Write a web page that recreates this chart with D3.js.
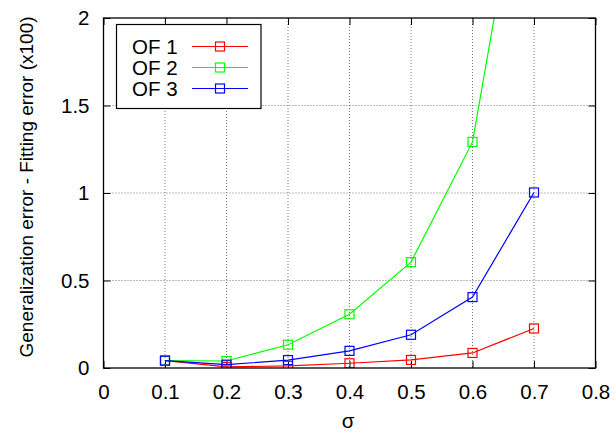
<!DOCTYPE html>
<html>
<head>
<meta charset="utf-8">
<script src="https://cdn.jsdelivr.net/npm/d3@7/dist/d3.min.js"></script>
<style>
  html, body { margin: 0; padding: 0; background: #fff; }
  svg { display: block; font-family: "Liberation Sans", Arial, Helvetica, sans-serif; }
</style>
</head>
<body>
<svg id="chart" width="615" height="433"></svg>
<script>
// sigma values (x) and per-series generalization minus fitting error (x100)
const sigma = [0.1, 0.2, 0.3, 0.4, 0.5, 0.6, 0.7];
const of1 = [0.042, 0.006, 0.012, 0.027, 0.046, 0.086, 0.226];
const of2 = [0.042, 0.040, 0.133, 0.307, 0.605, 1.292, 3.3];
const of3 = [0.042, 0.019, 0.045, 0.098, 0.190, 0.405, 1.003];
const seriesNames = ["OF 1", "OF 2", "OF 3"];
const seriesColors = ["#ff0000", "#00ff00", "#0000ff"];
const xTicks = [0, 0.1, 0.2, 0.3, 0.4, 0.5, 0.6, 0.7, 0.8];
const yTicks = [0, 0.5, 1, 1.5, 2];
const xTickLabels = ["0", "0.1", "0.2", "0.3", "0.4", "0.5", "0.6", "0.7", "0.8"];
const yTickLabels = ["0", "0.5", "1", "1.5", "2"];

const svg = d3.select("#chart");
const L = 103.5, R = 595.5, T = 18, B = 368;

const x = d3.scaleLinear().domain([0, 0.8]).range([L, R]);
const y = d3.scaleLinear().domain([0, 2]).range([B, T]);

const fontSize = 20.5;

// dotted grid
const grid = svg.append("g");
xTicks.slice(1, -1).forEach(t => {
  grid.append("line").attr("x1", x(t)).attr("x2", x(t)).attr("y1", T).attr("y2", B)
    .attr("stroke", "#777").attr("stroke-width", 1).attr("stroke-dasharray", "1,2");
});
yTicks.slice(1, -1).forEach(t => {
  grid.append("line").attr("x1", L).attr("x2", R).attr("y1", y(t)).attr("y2", y(t))
    .attr("stroke", "#777").attr("stroke-width", 1).attr("stroke-dasharray", "1,2");
});

// axes with inward ticks on all four sides
const tickLen = 7;
const bottomAxis = d3.axisBottom(x).tickValues(xTicks).tickSize(-tickLen).tickPadding(16)
  .tickFormat((d, i) => xTickLabels[i]);
const topAxis = d3.axisTop(x).tickValues(xTicks).tickSize(-tickLen).tickFormat("");
const leftAxis = d3.axisLeft(y).tickValues(yTicks).tickSize(-tickLen).tickPadding(14)
  .tickFormat((d, i) => yTickLabels[i]);
const rightAxis = d3.axisRight(y).tickValues(yTicks).tickSize(-tickLen).tickFormat("");

function styleAxis(g) {
  g.select(".domain").remove();
  g.selectAll(".tick line").attr("stroke", "#000").attr("stroke-width", 1);
  g.selectAll(".tick text").attr("fill", "#000").style("font-size", fontSize + "px")
    .style("font-family", "'Liberation Sans', Arial, sans-serif");
}
svg.append("g").attr("transform", `translate(0,${B})`).call(bottomAxis).call(styleAxis);
svg.append("g").attr("transform", `translate(0,${T})`).call(topAxis).call(styleAxis);
svg.append("g").attr("transform", `translate(${L},0)`).call(leftAxis).call(styleAxis);
svg.append("g").attr("transform", `translate(${R},0)`).call(rightAxis).call(styleAxis);

// clip region for data
svg.append("defs").append("clipPath").attr("id", "plotClip")
  .append("rect").attr("x", L).attr("y", T).attr("width", R - L).attr("height", B - T);

const series = [of1, of2, of3];
const line = d3.line().x(d => x(d[0])).y(d => y(d[1]));
const plot = svg.append("g").attr("clip-path", "url(#plotClip)");
const mk = 9;

series.forEach((vals, si) => {
  const pts = sigma.map((s, i) => [s, vals[i]]);
  plot.append("path").datum(pts).attr("d", line).attr("fill", "none")
    .attr("stroke", seriesColors[si]).attr("stroke-width", 1.2);
  plot.selectAll(null).data(pts).enter().append("rect")
    .attr("x", d => x(d[0]) - mk / 2).attr("y", d => y(d[1]) - mk / 2)
    .attr("width", mk).attr("height", mk)
    .attr("fill", "none").attr("stroke", seriesColors[si]).attr("stroke-width", 1.2);
});

// frame
svg.append("rect").attr("x", L).attr("y", T).attr("width", R - L).attr("height", B - T)
  .attr("fill", "none").attr("stroke", "#000").attr("stroke-width", 1.3);

// legend
const lg = svg.append("g");
lg.append("rect").attr("x", 116.5).attr("y", 24.5).attr("width", 144.5).attr("height", 84)
  .attr("fill", "#fff").attr("stroke", "#000").attr("stroke-width", 1.2);
seriesNames.forEach((name, i) => {
  const cy = 46.5 + i * 21;
  lg.append("text").attr("x", 132).attr("y", cy + 7.5).text(name)
    .style("font-size", fontSize + "px").attr("fill", "#000");
  lg.append("line").attr("x1", 192).attr("x2", 248).attr("y1", cy).attr("y2", cy)
    .attr("stroke", seriesColors[i]).attr("stroke-width", 1.2);
  lg.append("rect").attr("x", 220 - mk / 2).attr("y", cy - mk / 2).attr("width", mk).attr("height", mk)
    .attr("fill", "none").attr("stroke", seriesColors[i]).attr("stroke-width", 1.2);
});

// axis titles
svg.append("text").attr("transform", "translate(33,187) rotate(-90)")
  .attr("text-anchor", "middle").style("font-size", "19px").attr("fill", "#000")
  .text("Generalization error - Fitting error (x100)");
svg.append("text").attr("x", 348).attr("y", 428).attr("text-anchor", "middle")
  .style("font-size", fontSize + "px").attr("fill", "#000").text("σ");
</script>
</body>
</html>
